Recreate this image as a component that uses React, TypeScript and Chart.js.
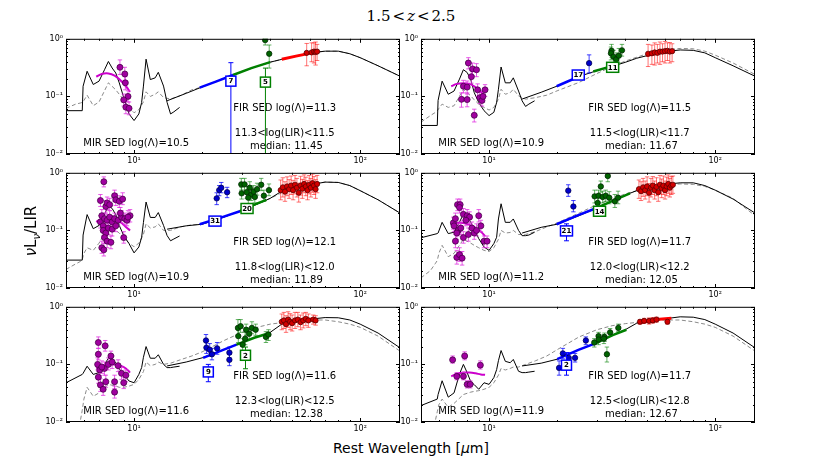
import React, { useEffect, useRef } from "react";
import { Chart, registerables } from "chart.js";

Chart.register(...registerables);

// ---------- wavelength grids (micron) ----------
const MIR_WAVE = [5.0, 5.9, 5.95, 6.2, 6.6, 7.0, 7.4, 7.7, 8.0, 8.3, 8.6, 9.0, 9.5, 10.0, 10.5, 10.8, 11.0, 11.3, 11.8, 12.4, 12.8, 13.5, 14.0, 14.5, 15.0, 15.9];
const FIR_WAVE = [14, 17, 20, 25, 30, 35, 40, 45, 50, 60, 70, 80, 90, 100, 120, 150];
const DASH_WAVE = [5.0, 5.5, 5.8, 5.9, 6.0, 6.2, 6.6, 7.0, 7.7, 8.3, 8.6, 9.0, 9.5, 10, 10.5, 11.0, 11.3, 11.8, 12.4, 12.8, 13.5, 14.5, 16, 18, 20, 25, 30, 35, 40, 50, 60, 70, 80, 90, 100, 120, 150];
const MAG_WAVE = [6.8, 7.2, 7.7, 8.2, 8.7, 9.2, 9.6];

// ---------- axis ticks ----------
const X_MAJOR = [10, 100];
const X_MINOR = [6, 7, 8, 9, 20, 30, 40, 50, 60, 70, 80, 90];
const Y_MAJOR = [0.01, 0.1, 1];
const Y_MINOR = [0.02, 0.03, 0.04, 0.05, 0.06, 0.07, 0.08, 0.09, 0.2, 0.3, 0.4, 0.5, 0.6, 0.7, 0.8, 0.9];

// ---------- panel texts ----------
const MIR_LOGLAMBDA = ["10.5", "10.9", "10.9", "11.2", "11.6", "11.9"];
const FIR_LOGLAMBDA = ["11.3", "11.5", "12.1", "11.7", "11.6", "11.7"];
const LIR_LO = ["11.3", "11.5", "11.8", "12.0", "12.3", "12.5"];
const LIR_HI = ["11.5", "11.7", "12.0", "12.2", "12.5", "12.8"];
const MEDIANS = ["11.45", "11.67", "11.89", "12.05", "12.38", "12.67"];

// ---------- MIR template (black) ----------
const P1_MIR = [0.0565, 0.0565, 0.15, 0.273, 0.161, 0.184, 0.29, 0.404, 0.311, 0.255, 0.172, 0.0955, 0.0496, 0.0381, 0.0496, 0.0785, 0.151, 0.443, 0.196, 0.21, 0.262, 0.151, 0.0785, 0.0496, 0.054, 0.0644];
const P2_MIR = [0.0313, 0.0313, 0.085, 0.184, 0.109, 0.124, 0.2, 0.291, 0.26, 0.196, 0.116, 0.0785, 0.0565, 0.0464, 0.0529, 0.0785, 0.133, 0.324, 0.172, 0.172, 0.21, 0.124, 0.0838, 0.067, 0.0735, 0.0838];
const P3_MIR = [0.0305, 0.0305, 0.083, 0.188, 0.107, 0.122, 0.19, 0.27, 0.24, 0.188, 0.122, 0.0813, 0.059, 0.0407, 0.0515, 0.076, 0.137, 0.311, 0.168, 0.168, 0.204, 0.122, 0.0813, 0.066, 0.071, 0.08];
const P4_MIR = [0.0745, 0.088, 0.09, 0.138, 0.088, 0.093, 0.14, 0.19, 0.176, 0.138, 0.104, 0.072, 0.0515, 0.045, 0.059, 0.076, 0.158, 0.29, 0.138, 0.138, 0.158, 0.1, 0.081, 0.081, 0.083, 0.093];
const P5_MIR = [0.048, 0.067, 0.07, 0.093, 0.067, 0.072, 0.1, 0.128, 0.122, 0.107, 0.084, 0.067, 0.0515, 0.048, 0.067, 0.088, 0.133, 0.204, 0.128, 0.128, 0.147, 0.1, 0.088, 0.088, 0.09, 0.093];
const P6_MIR = [0.0193, 0.025, 0.03, 0.052, 0.027, 0.032, 0.068, 0.1, 0.072, 0.05, 0.0445, 0.037, 0.048, 0.045, 0.059, 0.081, 0.116, 0.174, 0.113, 0.107, 0.122, 0.076, 0.072, 0.072, 0.0735, 0.076];

// ---------- FIR template (black) ----------
const P1_FIR = [0.084, 0.113, 0.146, 0.206, 0.27, 0.333, 0.393, 0.44, 0.487, 0.57, 0.61, 0.61, 0.55, 0.47, 0.34, 0.224];
const P2_FIR = [0.09, 0.118, 0.151, 0.222, 0.28, 0.332, 0.39, 0.46, 0.51, 0.6, 0.64, 0.63, 0.57, 0.47, 0.34, 0.224];
const P3_FIR = [0.105, 0.12, 0.128, 0.17, 0.225, 0.285, 0.36, 0.48, 0.55, 0.62, 0.69, 0.68, 0.6, 0.49, 0.34, 0.2];
const P4_FIR = [0.09, 0.113, 0.128, 0.18, 0.245, 0.32, 0.41, 0.49, 0.54, 0.63, 0.67, 0.67, 0.6, 0.5, 0.35, 0.2];
const P5_FIR = [0.094, 0.11, 0.13, 0.18, 0.24, 0.3, 0.36, 0.5, 0.57, 0.61, 0.65, 0.645, 0.59, 0.5, 0.35, 0.194];
const P6_FIR = [0.094, 0.105, 0.123, 0.18, 0.236, 0.32, 0.4, 0.52, 0.58, 0.62, 0.67, 0.66, 0.6, 0.5, 0.35, 0.194];

// ---------- comparison template (grey dashed) ----------
const P1_DASH = [0.062, 0.073, 0.077, 0.0785, 0.085, 0.105, 0.069, 0.08, 0.172, 0.13, 0.109, 0.087, 0.064, 0.052, 0.059, 0.08, 0.12, 0.1, 0.109, 0.12, 0.0955, 0.09, 0.103, 0.13, 0.146, 0.206, 0.27, 0.333, 0.393, 0.487, 0.57, 0.61, 0.61, 0.55, 0.47, 0.34, 0.224];
const P2_DASH = [0.0357, 0.0464, 0.053, 0.056, 0.062, 0.0735, 0.0644, 0.0688, 0.133, 0.102, 0.087, 0.0735, 0.0644, 0.058, 0.0644, 0.0895, 0.133, 0.109, 0.116, 0.133, 0.102, 0.0895, 0.095, 0.105, 0.125, 0.175, 0.25, 0.33, 0.41, 0.55, 0.64, 0.68, 0.67, 0.61, 0.52, 0.38, 0.24];
const P3_DASH = [0.021, 0.026, 0.029, 0.031, 0.04, 0.05, 0.045, 0.06, 0.12, 0.1, 0.09, 0.075, 0.06, 0.052, 0.06, 0.085, 0.13, 0.11, 0.115, 0.13, 0.1, 0.1, 0.115, 0.125, 0.128, 0.17, 0.225, 0.285, 0.36, 0.55, 0.62, 0.69, 0.68, 0.6, 0.49, 0.34, 0.2];
const P4_DASH = [0.015, 0.02, 0.027, 0.03, 0.04, 0.055, 0.035, 0.04, 0.07, 0.06, 0.055, 0.05, 0.045, 0.043, 0.05, 0.07, 0.1, 0.09, 0.092, 0.1, 0.085, 0.085, 0.095, 0.115, 0.135, 0.2, 0.28, 0.35, 0.43, 0.55, 0.62, 0.64, 0.63, 0.58, 0.5, 0.36, 0.18];
const P5_DASH = [null, null, 0.011, 0.016, 0.025, 0.04, 0.028, 0.032, 0.045, 0.042, 0.04, 0.04, 0.042, 0.045, 0.055, 0.075, 0.11, 0.095, 0.1, 0.11, 0.1, 0.105, 0.12, 0.14, 0.165, 0.26, 0.36, 0.44, 0.5, 0.56, 0.59, 0.59, 0.55, 0.5, 0.44, 0.31, 0.17];
const P6_DASH = [null, null, 0.011, 0.015, 0.02, 0.025, 0.018, 0.021, 0.03, 0.033, 0.034, 0.035, 0.037, 0.04, 0.048, 0.065, 0.085, 0.08, 0.085, 0.09, 0.09, 0.1, 0.115, 0.14, 0.18, 0.3, 0.4, 0.47, 0.51, 0.56, 0.59, 0.59, 0.55, 0.5, 0.44, 0.31, 0.17];

// ---------- MIR fit (magenta) ----------
const P1_MAG = [0.22, 0.245, 0.25, 0.23, 0.19, 0.15, 0.12];
const P2_MAG = [0.15, 0.165, 0.17, 0.165, 0.145, 0.12, 0.1];
const P3_MAG = [0.14, 0.16, 0.165, 0.16, 0.14, 0.115, 0.1];
const P4_MAG = [0.13, 0.135, 0.135, 0.125, 0.11, 0.095, 0.08];
const P5_MAG = [0.085, 0.095, 0.1, 0.1, 0.095, 0.085, 0.072];
const P6_MAG = [0.062, 0.068, 0.072, 0.072, 0.07, 0.067, 0.066];

// ---------- band segments [lambda, value] ----------
const P1_BLUE_SEG = [[19.5, 0.142], [23, 0.18], [27.4, 0.235]];
const P1_GREEN_SEG = [[27.4, 0.235], [33, 0.31], [40, 0.393]];
const P1_RED_SEG = [[45, 0.44], [52, 0.5], [62, 0.575]];
const P2_BLUE_SEG = [[19.9, 0.15], [22.5, 0.185], [25.2, 0.222]];
const P2_GREEN_SEG = [[28.9, 0.27], [32.5, 0.31], [36.6, 0.355]];
const P2_RED_SEG = [[49.5, 0.51], [56, 0.565], [64, 0.62]];
const P3_BLUE_SEG = [[19.5, 0.128], [24, 0.165], [29.4, 0.215]];
const P3_GREEN_SEG = [[29.4, 0.215], [34, 0.28], [38.5, 0.34]];
const P3_RED_SEG = [[45.5, 0.49], [54, 0.58], [64, 0.64]];
const P4_BLUE_SEG = [[19.9, 0.128], [24.5, 0.18], [29.9, 0.245]];
const P4_GREEN_SEG = [[29.9, 0.245], [36, 0.34], [42, 0.44]];
const P4_RED_SEG = [[46.5, 0.5], [55, 0.58], [64, 0.65]];
const P5_BLUE_SEG = [[20.2, 0.13], [24, 0.17], [28.4, 0.221]];
const P5_GREEN_SEG = [[28.4, 0.221], [34, 0.29], [39.8, 0.35]];
const P5_RED_SEG = [[45.5, 0.52], [54, 0.59], [64, 0.62]];
const P6_BLUE_SEG = [[20, 0.123], [25, 0.18], [29.9, 0.236]];
const P6_GREEN_SEG = [[29.9, 0.236], [35, 0.32], [40.5, 0.4]];
const P6_RED_SEG = [[46.5, 0.53], [55, 0.6], [64, 0.63]];

// ---------- photometry [lambda, value, lower, upper] ----------
const P1_MAG_PTS = [[8.66, 0.32, 0.24, 0.43], [9.1, 0.245, 0.19, 0.32], [9.15, 0.172, 0.13, 0.22], [9.4, 0.1, 0.08, 0.125], [9.0, 0.087, 0.068, 0.11], [9.2, 0.065, 0.05, 0.085], [9.5, 0.062, 0.048, 0.08]];
const P1_BLUE_PTS: number[][] = [];
const P1_GREEN_PTS = [[38.0, 0.95, 0.78, 1.3], [39.6, 0.55, 0.31, 0.78]];
const P1_RED_PTS = [[58, 0.57, 0.34, 0.83], [61, 0.58, 0.4, 0.85], [62.5, 0.6, 0.38, 0.85], [63.5, 0.59, 0.35, 0.88], [64.5, 0.6, 0.42, 0.8]];

const P2_MAG_PTS = [[7.55, 0.089, 0.065, 0.115], [7.7, 0.15, 0.115, 0.19], [8.1, 0.38, 0.3, 0.47], [8.45, 0.3, 0.23, 0.38], [8.8, 0.29, 0.22, 0.37], [8.35, 0.22, 0.17, 0.28], [8.0, 0.145, 0.11, 0.185], [8.0, 0.088, 0.066, 0.115], [8.6, 0.047, 0.036, 0.06], [8.9, 0.13, 0.1, 0.165], [9.1, 0.095, 0.075, 0.12], [9.3, 0.085, 0.068, 0.105], [9.6, 0.13, 0.1, 0.16], [9.4, 0.1, 0.08, 0.125]];
const P2_BLUE_PTS = [[27.7, 0.378, 0.255, 0.526]];
const P2_GREEN_PTS = [[34.8, 0.62, 0.48, 0.8], [34.6, 0.56, 0.43, 0.72], [35.5, 0.49, 0.37, 0.63], [36.5, 0.44, 0.34, 0.57], [37.5, 0.51, 0.38, 0.68], [38.7, 0.63, 0.5, 0.8]];
const P2_RED_PTS = [[50.5, 0.55, 0.33, 0.8], [52.5, 0.56, 0.36, 0.78], [54, 0.58, 0.35, 0.85], [55.5, 0.57, 0.38, 0.8], [57, 0.6, 0.36, 0.88], [58.5, 0.6, 0.4, 0.82], [60, 0.61, 0.38, 0.9], [61.5, 0.62, 0.42, 0.85], [63, 0.6, 0.38, 0.86], [64.5, 0.61, 0.4, 0.82]];

const P3_MAG_PTS = [[7.1, 0.33, 0.26, 0.42], [7.35, 0.7, 0.57, 0.85], [7.5, 0.26, 0.2, 0.33], [7.6, 0.3, 0.23, 0.38], [7.8, 0.28, 0.22, 0.36], [8.2, 0.4, 0.32, 0.5], [8.3, 0.34, 0.27, 0.43], [8.6, 0.32, 0.25, 0.4], [8.9, 0.35, 0.28, 0.45], [7.1, 0.14, 0.11, 0.18], [7.3, 0.12, 0.095, 0.15], [7.2, 0.18, 0.14, 0.23], [7.4, 0.16, 0.125, 0.2], [7.6, 0.15, 0.12, 0.19], [7.8, 0.17, 0.135, 0.22], [8.0, 0.14, 0.11, 0.18], [8.2, 0.16, 0.125, 0.2], [8.5, 0.15, 0.12, 0.19], [8.8, 0.17, 0.135, 0.22], [9.1, 0.16, 0.125, 0.2], [9.3, 0.15, 0.12, 0.19], [9.6, 0.18, 0.14, 0.23], [9.4, 0.17, 0.135, 0.22], [7.3, 0.1, 0.08, 0.13], [7.5, 0.09, 0.07, 0.115], [7.7, 0.11, 0.085, 0.14], [8.0, 0.105, 0.08, 0.135], [8.3, 0.12, 0.095, 0.15], [7.4, 0.075, 0.06, 0.095], [7.6, 0.065, 0.05, 0.085], [7.2, 0.05, 0.04, 0.065], [7.35, 0.046, 0.036, 0.06], [7.9, 0.062, 0.048, 0.08], [9.0, 0.075, 0.06, 0.095], [8.7, 0.2, 0.16, 0.25]];
const P3_BLUE_PTS = [[23.2, 0.36, 0.28, 0.45], [23.8, 0.5, 0.4, 0.6], [24.3, 0.55, 0.45, 0.68], [25.8, 0.46, 0.37, 0.56]];
const P3_GREEN_PTS = [[29.8, 0.63, 0.5, 0.8], [30.8, 0.63, 0.5, 0.8], [29.9, 0.44, 0.35, 0.56], [31.5, 0.46, 0.36, 0.58], [32.5, 0.55, 0.43, 0.7], [33.0, 0.42, 0.33, 0.53], [33.8, 0.47, 0.37, 0.6], [34.2, 0.38, 0.3, 0.48], [35.0, 0.52, 0.41, 0.66], [36.5, 0.62, 0.49, 0.8], [37.5, 0.4, 0.32, 0.5], [39.5, 0.5, 0.4, 0.64], [32.0, 0.37, 0.29, 0.47]];
const P3_RED_PTS = [[44.5, 0.5, 0.34, 0.75], [45.5, 0.56, 0.38, 0.82], [46.5, 0.47, 0.32, 0.7], [47.5, 0.58, 0.4, 0.85], [48.5, 0.52, 0.36, 0.76], [49.5, 0.6, 0.42, 0.88], [50.5, 0.5, 0.34, 0.74], [51.5, 0.62, 0.43, 0.9], [52.5, 0.55, 0.38, 0.8], [53.5, 0.45, 0.31, 0.66], [54.5, 0.6, 0.41, 0.87], [55.5, 0.53, 0.36, 0.77], [56.5, 0.64, 0.45, 0.92], [57.5, 0.58, 0.4, 0.84], [58.5, 0.5, 0.34, 0.73], [59.5, 0.62, 0.43, 0.9], [60.5, 0.55, 0.38, 0.8], [61.5, 0.66, 0.46, 0.95], [62.5, 0.6, 0.42, 0.86], [63.5, 0.52, 0.36, 0.76], [64.5, 0.64, 0.45, 0.9]];

const P4_MAG_PTS = [[6.95, 0.135, 0.105, 0.17], [7.1, 0.16, 0.125, 0.2], [7.25, 0.28, 0.22, 0.35], [7.45, 0.28, 0.22, 0.35], [7.4, 0.25, 0.2, 0.32], [7.7, 0.19, 0.15, 0.24], [8.0, 0.18, 0.14, 0.23], [8.2, 0.17, 0.13, 0.21], [7.0, 0.12, 0.095, 0.15], [7.3, 0.1, 0.08, 0.13], [7.2, 0.09, 0.07, 0.115], [7.5, 0.11, 0.085, 0.14], [7.7, 0.075, 0.06, 0.095], [8.1, 0.085, 0.065, 0.11], [8.4, 0.11, 0.085, 0.14], [7.1, 0.065, 0.05, 0.085], [7.2, 0.034, 0.026, 0.045], [7.4, 0.038, 0.029, 0.05], [7.6, 0.033, 0.025, 0.043], [8.6, 0.09, 0.07, 0.115], [9.0, 0.18, 0.14, 0.23], [9.2, 0.12, 0.095, 0.15], [9.5, 0.065, 0.05, 0.08], [9.8, 0.065, 0.05, 0.08], [8.8, 0.1, 0.08, 0.13], [7.9, 0.15, 0.12, 0.19]];
const P4_BLUE_PTS = [[22.4, 0.49, 0.39, 0.62], [23.6, 0.26, 0.21, 0.33]];
const P4_GREEN_PTS = [[29.3, 0.39, 0.3, 0.5], [30.5, 0.4, 0.31, 0.5], [31.2, 0.58, 0.46, 0.72], [31.8, 0.38, 0.3, 0.48], [32.8, 0.4, 0.32, 0.5], [34.0, 0.37, 0.29, 0.47], [30.2, 0.3, 0.24, 0.38], [33.5, 0.88, 0.7, 1.05], [36.0, 0.32, 0.25, 0.42], [37.2, 0.37, 0.29, 0.48]];
const P4_RED_PTS = [[46, 0.52, 0.36, 0.75], [47, 0.48, 0.33, 0.7], [48, 0.56, 0.39, 0.8], [49, 0.5, 0.35, 0.72], [50, 0.58, 0.4, 0.85], [51, 0.45, 0.31, 0.65], [52, 0.55, 0.38, 0.8], [53, 0.6, 0.42, 0.86], [54, 0.5, 0.35, 0.72], [55, 0.57, 0.4, 0.82], [56, 0.46, 0.32, 0.66], [57, 0.62, 0.43, 0.9], [58, 0.54, 0.37, 0.78], [59, 0.6, 0.42, 0.88], [60, 0.5, 0.35, 0.72], [61, 0.58, 0.4, 0.84], [62, 0.64, 0.44, 0.92], [63, 0.55, 0.38, 0.8], [64, 0.6, 0.42, 0.86], [65, 0.62, 0.44, 0.88]];

const P5_MAG_PTS = [[6.95, 0.24, 0.19, 0.3], [7.45, 0.21, 0.17, 0.26], [6.95, 0.15, 0.12, 0.19], [6.9, 0.1, 0.08, 0.13], [7.05, 0.08, 0.064, 0.1], [6.95, 0.06, 0.047, 0.075], [7.1, 0.044, 0.034, 0.056], [7.3, 0.037, 0.029, 0.047], [7.5, 0.05, 0.04, 0.065], [7.4, 0.085, 0.065, 0.11], [7.7, 0.1, 0.08, 0.13], [7.9, 0.14, 0.11, 0.17], [8.0, 0.11, 0.085, 0.14], [7.2, 0.09, 0.07, 0.115], [8.2, 0.05, 0.038, 0.065], [8.2, 0.033, 0.026, 0.042], [8.8, 0.07, 0.055, 0.09], [9.2, 0.065, 0.05, 0.08], [9.0, 0.048, 0.038, 0.06], [8.5, 0.095, 0.075, 0.12]];
const P5_BLUE_PTS = [[20.8, 0.26, 0.2, 0.33], [20.9, 0.195, 0.155, 0.25], [21.6, 0.18, 0.14, 0.23], [22.1, 0.15, 0.12, 0.19], [23.3, 0.19, 0.15, 0.24], [26.4, 0.16, 0.13, 0.2], [26.4, 0.12, 0.095, 0.15]];
const P5_GREEN_PTS = [[28.8, 0.43, 0.32, 0.6], [28.9, 0.31, 0.24, 0.4], [29.6, 0.46, 0.36, 0.6], [31.3, 0.4, 0.32, 0.5], [31.0, 0.28, 0.22, 0.36], [32.3, 0.34, 0.27, 0.43], [33.2, 0.43, 0.34, 0.55], [30.2, 0.22, 0.17, 0.28], [38.3, 0.3, 0.24, 0.37], [39.3, 0.33, 0.26, 0.4], [34.5, 0.4, 0.32, 0.5]];
const P5_RED_PTS = [[45, 0.55, 0.4, 0.75], [46, 0.58, 0.42, 0.8], [47, 0.5, 0.36, 0.7], [48, 0.6, 0.44, 0.82], [49, 0.55, 0.4, 0.76], [50, 0.52, 0.38, 0.72], [51.5, 0.58, 0.42, 0.8], [53, 0.6, 0.45, 0.8], [54.5, 0.54, 0.4, 0.72], [56, 0.58, 0.43, 0.78], [57.5, 0.62, 0.47, 0.8], [59, 0.58, 0.44, 0.75], [62, 0.6, 0.5, 0.72], [63.5, 0.58, 0.48, 0.7]];

const P6_MAG_PTS = [[6.9, 0.12, 0.105, 0.14], [7.8, 0.14, 0.12, 0.165], [9.15, 0.097, 0.083, 0.115], [7.2, 0.062, 0.054, 0.072], [7.7, 0.062, 0.054, 0.072], [8.0, 0.045, 0.039, 0.052], [8.25, 0.045, 0.039, 0.052]];
const P6_BLUE_PTS = [[20.4, 0.087, 0.065, 0.115], [21.2, 0.155, 0.125, 0.19], [22.5, 0.13, 0.105, 0.16], [24.0, 0.13, 0.11, 0.155], [26.8, 0.26, 0.22, 0.3]];
const P6_GREEN_PTS = [[29.2, 0.24, 0.2, 0.28], [30.5, 0.31, 0.26, 0.36], [30.5, 0.27, 0.22, 0.32], [32.4, 0.3, 0.25, 0.35], [32.2, 0.28, 0.23, 0.33], [34.3, 0.36, 0.31, 0.42], [37.3, 0.43, 0.37, 0.5], [33.2, 0.15, 0.11, 0.2]];
const P6_RED_PTS = [[46.5, 0.55, 0.5, 0.6], [48.5, 0.57, 0.52, 0.63], [51, 0.57, 0.5, 0.64], [53, 0.58, 0.52, 0.65], [55, 0.6, 0.54, 0.66], [61.5, 0.55, 0.5, 0.6]];

// ---------- stacked-limit boxes [lambda, value, lower, upper, count] ----------
const P1_BLUE_BOX: any = [26.8, 0.184, 0.005, 0.385, "7"];
const P1_GREEN_BOX: any = [38.1, 0.177, 0.005, 0.31, "5"];
const P2_BLUE_BOX: any = [24.8, 0.235, 0.235, 0.235, "17"];
const P2_GREEN_BOX: any = [35.2, 0.32, 0.27, 0.38, "11"];
const P3_BLUE_BOX: any = [22.8, 0.145, 0.145, 0.145, "31"];
const P3_GREEN_BOX: any = [31.6, 0.24, 0.24, 0.24, "20"];
const P4_BLUE_BOX: any = [22.0, 0.098, 0.066, 0.13, "21"];
const P4_GREEN_BOX: any = [30.8, 0.215, 0.18, 0.25, "14"];
const P5_BLUE_BOX: any = [21.3, 0.074, 0.05, 0.1, "9"];
const P5_GREEN_BOX: any = [31.1, 0.144, 0.084, 0.2, "2"];
const P6_BLUE_BOX: any = [22.0, 0.097, 0.065, 0.16, "2"];
const P6_GREEN_BOX: any = null;

const PANELS: any[] = [
  { mir: P1_MIR, fir: P1_FIR, dash: P1_DASH, mag: P1_MAG, bSeg: P1_BLUE_SEG, gSeg: P1_GREEN_SEG, rSeg: P1_RED_SEG, mPts: P1_MAG_PTS, bPts: P1_BLUE_PTS, gPts: P1_GREEN_PTS, rPts: P1_RED_PTS, bBox: P1_BLUE_BOX, gBox: P1_GREEN_BOX },
  { mir: P2_MIR, fir: P2_FIR, dash: P2_DASH, mag: P2_MAG, bSeg: P2_BLUE_SEG, gSeg: P2_GREEN_SEG, rSeg: P2_RED_SEG, mPts: P2_MAG_PTS, bPts: P2_BLUE_PTS, gPts: P2_GREEN_PTS, rPts: P2_RED_PTS, bBox: P2_BLUE_BOX, gBox: P2_GREEN_BOX },
  { mir: P3_MIR, fir: P3_FIR, dash: P3_DASH, mag: P3_MAG, bSeg: P3_BLUE_SEG, gSeg: P3_GREEN_SEG, rSeg: P3_RED_SEG, mPts: P3_MAG_PTS, bPts: P3_BLUE_PTS, gPts: P3_GREEN_PTS, rPts: P3_RED_PTS, bBox: P3_BLUE_BOX, gBox: P3_GREEN_BOX },
  { mir: P4_MIR, fir: P4_FIR, dash: P4_DASH, mag: P4_MAG, bSeg: P4_BLUE_SEG, gSeg: P4_GREEN_SEG, rSeg: P4_RED_SEG, mPts: P4_MAG_PTS, bPts: P4_BLUE_PTS, gPts: P4_GREEN_PTS, rPts: P4_RED_PTS, bBox: P4_BLUE_BOX, gBox: P4_GREEN_BOX },
  { mir: P5_MIR, fir: P5_FIR, dash: P5_DASH, mag: P5_MAG, bSeg: P5_BLUE_SEG, gSeg: P5_GREEN_SEG, rSeg: P5_RED_SEG, mPts: P5_MAG_PTS, bPts: P5_BLUE_PTS, gPts: P5_GREEN_PTS, rPts: P5_RED_PTS, bBox: P5_BLUE_BOX, gBox: P5_GREEN_BOX },
  { mir: P6_MIR, fir: P6_FIR, dash: P6_DASH, mag: P6_MAG, bSeg: P6_BLUE_SEG, gSeg: P6_GREEN_SEG, rSeg: P6_RED_SEG, mPts: P6_MAG_PTS, bPts: P6_BLUE_PTS, gPts: P6_GREEN_PTS, rPts: P6_RED_PTS, bBox: P6_BLUE_BOX, gBox: P6_GREEN_BOX },
];

// ---------- layout ----------
const PANEL_LEFT = [66, 421, 66, 421, 66, 421];
const PANEL_TOP = [37, 37, 171, 171, 305, 305];
const PLOT_W = 334;
const PLOT_H = 117;
const AXIS_W = 26;
const AXIS_H = 14;
const PAD_TOP = 6;
const PAD_RIGHT = 4;
const CANVAS_W = AXIS_W + PLOT_W + PAD_RIGHT;
const CANVAS_H = PAD_TOP + PLOT_H + AXIS_H;

const FONT = '"DejaVu Sans", sans-serif';

function curve(xs: number[], ys: any[]) {
  return xs.map((x, i) => ({ x, y: ys[i] }));
}

function lineSet(data: any[], color: string, width: number, order: number, dash?: number[], tension = 0) {
  return {
    data,
    showLine: true,
    borderColor: color,
    borderWidth: width,
    borderDash: dash || [],
    pointRadius: 0,
    pointHoverRadius: 0,
    fill: false,
    tension,
    spanGaps: false,
    order,
  };
}

function pointSet(rows: number[][], fill: string, edge: string, err: string, radius: number, order: number) {
  return {
    data: rows.map((r) => ({ x: r[0], y: r[1] })),
    errs: rows.map((r) => [r[2], r[3]]),
    errColor: err,
    showLine: false,
    pointRadius: radius,
    pointHoverRadius: radius,
    pointBackgroundColor: fill,
    pointBorderColor: edge,
    pointBorderWidth: 0.8,
    order,
  };
}

function makePlugin(idx: number) {
  const p = PANELS[idx];
  return {
    id: "sedExtras" + idx,
    beforeDatasetDraw(chart: any, args: any) {
      const ds = chart.data.datasets[args.index];
      if (!ds.errs) return;
      const { ctx, chartArea: a, scales } = chart;
      ctx.save();
      ctx.beginPath();
      ctx.rect(a.left, a.top, a.right - a.left, a.bottom - a.top);
      ctx.clip();
      ctx.strokeStyle = ds.errColor;
      ctx.lineWidth = 1;
      ds.data.forEach((pt: any, i: number) => {
        const px = scales.x.getPixelForValue(pt.x);
        const y1 = scales.y.getPixelForValue(ds.errs[i][0]);
        const y2 = scales.y.getPixelForValue(ds.errs[i][1]);
        ctx.beginPath();
        ctx.moveTo(px, y1);
        ctx.lineTo(px, y2);
        ctx.moveTo(px - 2.2, y1);
        ctx.lineTo(px + 2.2, y1);
        ctx.moveTo(px - 2.2, y2);
        ctx.lineTo(px + 2.2, y2);
        ctx.stroke();
      });
      ctx.restore();
    },
    afterDatasetsDraw(chart: any) {
      const { ctx, chartArea: a, scales } = chart;
      const W = a.right - a.left;
      const H = a.bottom - a.top;
      ctx.save();
      ctx.fillStyle = "#000";
      ctx.font = "10px " + FONT;
      ctx.textAlign = "center";
      ctx.textBaseline = "middle";
      ctx.fillText("MIR SED log(\u039B)=" + MIR_LOGLAMBDA[idx], a.left + 0.21 * W, a.top + 0.905 * H);
      ctx.fillText("FIR SED log(\u039B)=" + FIR_LOGLAMBDA[idx], a.left + 0.655 * W, a.top + 0.6 * H);
      ctx.fillText(LIR_LO[idx] + "<log(LIR)<" + LIR_HI[idx], a.left + 0.655 * W, a.top + 0.825 * H);
      ctx.fillText("median: " + MEDIANS[idx], a.left + 0.66 * W, a.top + 0.93 * H);
      const drawBox = (b: any, color: string) => {
        if (!b) return;
        const px = scales.x.getPixelForValue(b[0]);
        const py = scales.y.getPixelForValue(b[1]);
        if (b[2] !== b[3]) {
          ctx.save();
          ctx.beginPath();
          ctx.rect(a.left, a.top, W, H);
          ctx.clip();
          const y1 = scales.y.getPixelForValue(b[2]);
          const y2 = scales.y.getPixelForValue(b[3]);
          ctx.strokeStyle = color;
          ctx.lineWidth = 1;
          ctx.beginPath();
          ctx.moveTo(px, y1);
          ctx.lineTo(px, y2);
          ctx.moveTo(px - 2.5, y1);
          ctx.lineTo(px + 2.5, y1);
          ctx.moveTo(px - 2.5, y2);
          ctx.lineTo(px + 2.5, y2);
          ctx.stroke();
          ctx.restore();
        }
        const w = String(b[4]).length > 1 ? 12 : 10;
        const h = 10;
        ctx.fillStyle = "#fff";
        ctx.fillRect(px - w / 2, py - h / 2, w, h);
        ctx.strokeStyle = color;
        ctx.lineWidth = 1.5;
        ctx.strokeRect(px - w / 2, py - h / 2, w, h);
        ctx.fillStyle = "#000";
        ctx.font = "bold 7px " + FONT;
        ctx.textAlign = "center";
        ctx.textBaseline = "middle";
        ctx.fillText(String(b[4]), px, py + 0.5);
      };
      drawBox(p.bBox, "#0000ff");
      drawBox(p.gBox, "#008000");
      ctx.restore();
    },
    afterDraw(chart: any) {
      const { ctx, chartArea: a, scales } = chart;
      ctx.save();
      ctx.strokeStyle = "#000";
      ctx.lineWidth = 1;
      ctx.strokeRect(a.left + 0.5, a.top + 0.5, a.right - a.left - 1, a.bottom - a.top - 1);
      ctx.beginPath();
      const xt = (v: number, len: number) => {
        const px = Math.round(scales.x.getPixelForValue(v)) + 0.5;
        ctx.moveTo(px, a.bottom);
        ctx.lineTo(px, a.bottom - len);
        ctx.moveTo(px, a.top);
        ctx.lineTo(px, a.top + len);
      };
      const yt = (v: number, len: number) => {
        const py = Math.round(scales.y.getPixelForValue(v)) + 0.5;
        ctx.moveTo(a.left, py);
        ctx.lineTo(a.left + len, py);
        ctx.moveTo(a.right, py);
        ctx.lineTo(a.right - len, py);
      };
      X_MAJOR.forEach((v) => xt(v, 4));
      X_MINOR.forEach((v) => xt(v, 2));
      Y_MAJOR.forEach((v) => yt(v, 4));
      Y_MINOR.forEach((v) => yt(v, 2));
      ctx.stroke();
      ctx.restore();
    },
  };
}

function buildConfig(idx: number): any {
  const p = PANELS[idx];
  const datasets = [
    pointSet(p.rPts, "#d40000", "#5a0000", "rgba(255,0,0,0.55)", 2.6, 1),
    pointSet(p.gPts, "#006400", "#002800", "rgba(0,128,0,0.6)", 2.7, 2),
    pointSet(p.bPts, "#0000cc", "#000050", "rgba(0,0,255,0.75)", 2.7, 3),
    pointSet(p.mPts, "#a000a0", "#4a004a", "rgba(225,50,225,0.8)", 3.0, 4),
    lineSet(p.rSeg.map((s: number[]) => ({ x: s[0], y: s[1] })), "#ff0000", 3, 5),
    lineSet(p.gSeg.map((s: number[]) => ({ x: s[0], y: s[1] })), "#008000", 2.5, 5),
    lineSet(p.bSeg.map((s: number[]) => ({ x: s[0], y: s[1] })), "#0000ff", 2.5, 5),
    lineSet(curve(MAG_WAVE, p.mag), "#cc00cc", 2, 6, undefined, 0.4),
    lineSet(curve(FIR_WAVE, p.fir), "#000000", 1, 7),
    lineSet(curve(MIR_WAVE, p.mir), "#000000", 1, 7),
    lineSet(curve(DASH_WAVE, p.dash), "#8a8a8a", 1, 8, [4, 2.5]),
  ];
  return {
    type: "scatter",
    data: { datasets },
    plugins: [makePlugin(idx)],
    options: {
      animation: false,
      responsive: false,
      maintainAspectRatio: false,
      events: [],
      layout: { padding: { top: PAD_TOP, right: PAD_RIGHT, left: 0, bottom: 0 } },
      plugins: { legend: { display: false }, tooltip: { enabled: false } },
      scales: {
        x: {
          type: "logarithmic",
          min: 5,
          max: 150,
          grid: { display: false, drawTicks: false },
          border: { display: false },
          ticks: {
            font: { family: FONT, size: 8 },
            color: "#000",
            padding: 2,
            autoSkip: false,
            maxRotation: 0,
            callback: (v: number) => (v === 10 ? "10\u00B9" : v === 100 ? "10\u00B2" : ""),
          },
          afterBuildTicks: (s: any) => {
            s.ticks = X_MAJOR.map((v) => ({ value: v }));
          },
          afterFit: (s: any) => {
            s.height = AXIS_H;
          },
        },
        y: {
          type: "logarithmic",
          min: 0.01,
          max: 1,
          grid: { display: false, drawTicks: false },
          border: { display: false },
          ticks: {
            font: { family: FONT, size: 8 },
            color: "#000",
            padding: 3,
            autoSkip: false,
            callback: (v: number) =>
              v === 1 ? "10\u2070" : v === 0.1 ? "10\u207B\u00B9" : v === 0.01 ? "10\u207B\u00B2" : "",
          },
          afterBuildTicks: (s: any) => {
            s.ticks = Y_MAJOR.map((v) => ({ value: v }));
          },
          afterFit: (s: any) => {
            s.width = AXIS_W;
          },
        },
      },
    },
  };
}

function SedPanel({ index }: { index: number }) {
  const ref = useRef<HTMLCanvasElement>(null);
  useEffect(() => {
    if (!ref.current) return;
    const chart = new Chart(ref.current, buildConfig(index));
    return () => chart.destroy();
  }, [index]);
  return (
    <canvas
      ref={ref}
      width={CANVAS_W}
      height={CANVAS_H}
      style={{
        position: "absolute",
        left: PANEL_LEFT[index] - AXIS_W,
        top: PANEL_TOP[index] - PAD_TOP,
        width: CANVAS_W,
        height: CANVAS_H,
      }}
    />
  );
}

export default function App() {
  return (
    <div style={{ position: "absolute", left: 0, top: 0, width: 822, height: 466, background: "#fff", overflow: "hidden" }}>
      <div
        style={{
          position: "absolute",
          left: 0,
          top: 6,
          width: 822,
          textAlign: "center",
          fontFamily: '"DejaVu Serif", serif',
          fontSize: 15,
          lineHeight: "20px",
          color: "#000",
        }}
      >
        1.5<span style={{ margin: "0 2px" }}>&lt;</span>
        <i>z</i>
        <span style={{ margin: "0 2px" }}>&lt;</span>2.5
      </div>
      {PANELS.map((_, i) => (
        <SedPanel key={i} index={i} />
      ))}
      <div
        style={{
          position: "absolute",
          left: 31 - 60,
          top: 231 - 10,
          width: 120,
          height: 20,
          lineHeight: "20px",
          textAlign: "center",
          transform: "rotate(-90deg)",
          fontFamily: FONT,
          fontSize: 15,
          color: "#000",
          whiteSpace: "nowrap",
        }}
      >
        <i>&#957;</i>L<sub style={{ fontSize: 10 }}>
          <i>&#957;</i>
        </sub>
        /LIR
      </div>
      <div
        style={{
          position: "absolute",
          left: 0,
          top: 438,
          width: 822,
          textAlign: "center",
          fontFamily: FONT,
          fontSize: 14,
          lineHeight: "20px",
          color: "#000",
        }}
      >
        Rest Wavelength [<i>&#956;</i>m]
      </div>
    </div>
  );
}
